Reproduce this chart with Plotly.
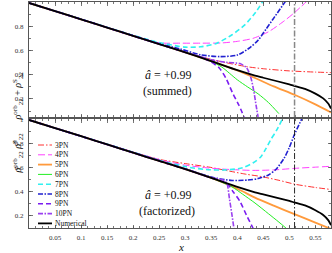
import plotly.graph_objects as go

# ---------------- data ----------------
x_num = [0.0, 0.05, 0.1, 0.15, 0.2, 0.25, 0.29, 0.35, 0.4, 0.434, 0.45, 0.5, 0.511, 0.53, 0.55, 0.565, 0.575, 0.58]
y_num = [1.0, 0.932, 0.864, 0.795, 0.726, 0.657, 0.603, 0.515, 0.44, 0.395, 0.377, 0.322, 0.308, 0.285, 0.245, 0.205, 0.16, 0.12]

# summed (top panel)
s3_x = [0, 0.1, 0.2, 0.3, 0.33, 0.36, 0.39, 0.42, 0.45, 0.5, 0.55, 0.58]
s3_y = [1, 0.864, 0.726, 0.589, 0.552, 0.52, 0.492, 0.468, 0.452, 0.434, 0.424, 0.42]
s4_x = [0, 0.1, 0.2, 0.25, 0.29, 0.33, 0.37, 0.4, 0.43, 0.46, 0.49, 0.51, 0.535]
s4_y = [1, 0.865, 0.73, 0.668, 0.665, 0.665, 0.667, 0.68, 0.705, 0.76, 0.85, 0.92, 1.02]
s5_x = [0, 0.1, 0.2, 0.3, 0.35, 0.4, 0.434, 0.47, 0.511, 0.55, 0.58]
s5_y = [1, 0.864, 0.726, 0.589, 0.516, 0.438, 0.375, 0.305, 0.233, 0.155, 0.088]
s6_x = [0, 0.1, 0.2, 0.3, 0.33, 0.35, 0.37, 0.4, 0.42, 0.44, 0.46, 0.48]
s6_y = [1, 0.864, 0.726, 0.589, 0.551, 0.512, 0.467, 0.36, 0.3, 0.243, 0.17, 0.078]
s7_x = [0, 0.1, 0.2, 0.25, 0.3, 0.33, 0.36, 0.39, 0.415, 0.435, 0.45]
s7_y = [1, 0.865, 0.73, 0.67, 0.632, 0.635, 0.663, 0.735, 0.82, 0.92, 1.02]
s8_x = [0, 0.1, 0.2, 0.25, 0.29, 0.33, 0.367, 0.4, 0.425, 0.44, 0.455, 0.472, 0.492]
s8_y = [1, 0.864, 0.727, 0.66, 0.617, 0.568, 0.553, 0.566, 0.63, 0.69, 0.78, 0.886, 1.01]
s9_x = [0, 0.1, 0.2, 0.3, 0.33, 0.35, 0.365, 0.378, 0.391, 0.403, 0.413]
s9_y = [1, 0.864, 0.726, 0.589, 0.55, 0.508, 0.46, 0.375, 0.25, 0.15, 0.05]
s10_x = [0, 0.1, 0.2, 0.3, 0.33, 0.355, 0.38, 0.405, 0.418, 0.426, 0.432, 0.436, 0.44]
s10_y = [1, 0.864, 0.726, 0.589, 0.552, 0.522, 0.505, 0.495, 0.46, 0.38, 0.26, 0.15, 0.05]

# factorized (bottom panel)
f3_x = [0, 0.1, 0.2, 0.25, 0.3, 0.348, 0.386, 0.418, 0.444, 0.48, 0.511, 0.55, 0.58]
f3_y = [1, 0.865, 0.73, 0.67, 0.635, 0.604, 0.571, 0.545, 0.528, 0.495, 0.462, 0.435, 0.418]
f4_x = [0, 0.1, 0.2, 0.26, 0.3, 0.34, 0.38, 0.43, 0.47, 0.51, 0.55, 0.58]
f4_y = [1, 0.866, 0.732, 0.658, 0.622, 0.6, 0.587, 0.578, 0.582, 0.595, 0.605, 0.612]
f5_x = [0, 0.1, 0.2, 0.3, 0.35, 0.38, 0.41, 0.434, 0.47, 0.511, 0.55, 0.58]
f5_y = [1, 0.864, 0.726, 0.589, 0.515, 0.463, 0.403, 0.35, 0.283, 0.21, 0.141, 0.088]
f6_x = [0, 0.1, 0.2, 0.3, 0.35, 0.37, 0.39, 0.41, 0.434, 0.46, 0.48, 0.495]
f6_y = [1, 0.864, 0.726, 0.589, 0.515, 0.48, 0.44, 0.38, 0.305, 0.215, 0.145, 0.09]
f7_x = [0, 0.1, 0.2, 0.25, 0.3, 0.34, 0.38, 0.41, 0.43, 0.445, 0.455, 0.465, 0.475, 0.487]
f7_y = [1, 0.865, 0.73, 0.663, 0.61, 0.585, 0.582, 0.6, 0.64, 0.69, 0.76, 0.84, 0.91, 1.01]
f8_x = [0, 0.1, 0.2, 0.3, 0.33, 0.36, 0.39, 0.42, 0.44, 0.46, 0.475, 0.49, 0.5, 0.51, 0.524]
f8_y = [1, 0.864, 0.727, 0.592, 0.548, 0.512, 0.494, 0.497, 0.51, 0.54, 0.59, 0.68, 0.77, 0.88, 1.01]
f9_x = [0, 0.1, 0.2, 0.3, 0.35, 0.37, 0.38, 0.392, 0.405, 0.418, 0.43, 0.435]
f9_y = [1, 0.864, 0.726, 0.589, 0.515, 0.488, 0.47, 0.4, 0.32, 0.2, 0.096, 0.05]
f10_x = [0, 0.1, 0.2, 0.3, 0.35, 0.372, 0.38, 0.385, 0.39, 0.395]
f10_y = [1, 0.864, 0.726, 0.589, 0.518, 0.5, 0.47, 0.34, 0.2, 0.05]

names = ["3PN", "4PN", "5PN", "6PN", "7PN", "8PN", "9PN", "10PN", "Numerical"]
x_lso = 0.51
x_ticks = [0.05, 0.1, 0.15, 0.2, 0.25, 0.3, 0.35, 0.4, 0.45, 0.5, 0.55]
y_ticks = [0.2, 0.4, 0.6, 0.8, 1.0]

# ---------------- styles ----------------
styles = {
    "3PN": dict(color="#ff3030", dash="6px,2px,1.5px,2px", width=1),
    "4PN": dict(color="#ff40ff", dash="7px,3px", width=1),
    "5PN": dict(color="#ff9a3c", dash="solid", width=1.8),
    "6PN": dict(color="#22ee22", dash="solid", width=1),
    "7PN": dict(color="#30f0f0", dash="5px,3px", width=1.6),
    "8PN": dict(color="#2020d0", dash="5px,1.5px,1.5px,1.5px", width=1.6),
    "9PN": dict(color="#7a1cf0", dash="5px,3px", width=1.6),
    "10PN": dict(color="#9a40f0", dash="5px,1.5px,1.5px,1.5px", width=1.6),
    "Numerical": dict(color="#000000", dash="solid", width=1.8),
}

top = {"3PN": (s3_x, s3_y), "4PN": (s4_x, s4_y), "5PN": (s5_x, s5_y), "6PN": (s6_x, s6_y),
       "7PN": (s7_x, s7_y), "8PN": (s8_x, s8_y), "9PN": (s9_x, s9_y), "10PN": (s10_x, s10_y),
       "Numerical": (x_num, y_num)}
bot = {"3PN": (f3_x, f3_y), "4PN": (f4_x, f4_y), "5PN": (f5_x, f5_y), "6PN": (f6_x, f6_y),
       "7PN": (f7_x, f7_y), "8PN": (f8_x, f8_y), "9PN": (f9_x, f9_y), "10PN": (f10_x, f10_y),
       "Numerical": (x_num, y_num)}

fig = go.Figure()
for panel, (xa, ya) in ((top, ("x", "y")), (bot, ("x2", "y2"))):
    for n in names:
        xs, ys = panel[n]
        st = styles[n]
        fig.add_trace(go.Scatter(
            x=xs, y=ys, mode="lines", name=n, xaxis=xa, yaxis=ya, showlegend=False,
            hoverinfo="skip",
            line=dict(color=st["color"], dash=st["dash"], width=st["width"],
                      shape="spline", smoothing=0.7)))

# geometry
W, H = 332, 253
L, R, T, B = 29, 1, 2, 25
PW, PH = W - L - R, H - T - B

def py2paper(py):
    return (H - B - py) / PH

def px2paper(px):
    return (px - L) / PW

FONT = "Liberation Serif"
axis_common = dict(showline=True, linecolor="#555555", linewidth=1, mirror="allticks",
                   ticks="inside", ticklen=3.5, tickcolor="#555555", tickwidth=0.8,
                   showgrid=False, zeroline=False, automargin=False,
                   tickfont=dict(family=FONT, size=7, color="#333333"))

xrange_ = [0.0, 0.58]
minor_x = dict(dtick=0.0125, tick0=0, ticks="inside", ticklen=2, tickcolor="#555555", showgrid=False)
minor_y = dict(dtick=0.1, tick0=0, ticks="inside", ticklen=2, tickcolor="#555555", showgrid=False)
fig.update_layout(
    template="none",
    width=W, height=H, margin=dict(l=L, r=R, t=T, b=B, autoexpand=False),
    font=dict(family=FONT),
    paper_bgcolor="white", plot_bgcolor="white", showlegend=False,
    xaxis=dict(domain=[0, 1], anchor="y", range=xrange_, tickvals=x_ticks, showticklabels=False,
               minor=minor_x, **axis_common),
    xaxis2=dict(domain=[0, 1], anchor="y2", range=xrange_, tickvals=x_ticks,
                ticktext=[f"{v:g}" for v in x_ticks], minor=minor_x, ticklabelstandoff=3,
                **axis_common),
    yaxis=dict(domain=[py2paper(117), 1], anchor="x", range=[0.05, 1.008], tickvals=y_ticks,
               ticktext=[f"{v:g}" for v in y_ticks], minor=minor_y, ticklabelstandoff=3,
               **axis_common),
    yaxis2=dict(domain=[0, py2paper(119)], anchor="x2", range=[0.096, 1.008], tickvals=y_ticks,
                ticktext=[f"{v:g}" for v in y_ticks], minor=minor_y, ticklabelstandoff=3,
                **axis_common),
)

# vertical reference lines
fig.add_shape(type="line", xref="x", yref="y domain", x0=x_lso, x1=x_lso, y0=0, y1=1,
              line=dict(color="#888888", width=1.5, dash="6px,2px,1.5px,2px"))
fig.add_shape(type="line", xref="x2", yref="y2 domain", x0=x_lso, x1=x_lso, y0=0, y1=1,
              line=dict(color="#111111", width=0.9, dash="6px,2px,1.5px,2px"))

# annotations
ann = []
ann.append(dict(text="<i>â</i> = +0.99", x=px2paper(168), y=py2paper(75)))
ann.append(dict(text="(summed)", x=px2paper(167), y=py2paper(91)))
ann.append(dict(text="<i>â</i> = +0.99", x=px2paper(168), y=py2paper(195)))
ann.append(dict(text="(factorized)", x=px2paper(167), y=py2paper(211)))
for a in ann:
    fig.add_annotation(xref="paper", yref="paper", showarrow=False, xanchor="center", yanchor="middle",
                       font=dict(family=FONT, size=12, color="#111111"), **a)

fig.add_annotation(text="<i>x</i>", xref="paper", yref="paper", x=px2paper(181), y=py2paper(255),
                   xanchor="center", yanchor="bottom", showarrow=False,
                   font=dict(family=FONT, size=11, color="#111111"))
fig.add_annotation(text="<i>ρ</i><sup>orb</sup><sub>22</sub> + <i>ρ</i><sup>S</sup><sub>22</sub>",
                   xref="paper", yref="paper", x=px2paper(8), y=py2paper(70), textangle=-90,
                   showarrow=False, font=dict(family=FONT, size=10, color="#111111"))
fig.add_annotation(text="<i>ρ</i><sup>orb</sup><sub>22</sub> <i>ρ̂</i><sup>S</sup><sub>22</sub>",
                   xref="paper", yref="paper", x=px2paper(8), y=py2paper(176), textangle=-90,
                   showarrow=False, font=dict(family=FONT, size=10, color="#111111"))

# legend (bottom panel), built from the same style table
for i, n in enumerate(names):
    st = styles[n]
    py = 145 + i * 9.8
    fig.add_shape(type="line", xref="paper", yref="paper", x0=px2paper(38), x1=px2paper(52),
                  y0=py2paper(py), y1=py2paper(py),
                  line=dict(color=st["color"], dash=st["dash"], width=st["width"]))
    fig.add_annotation(text=n, xref="paper", yref="paper", x=px2paper(53), y=py2paper(py),
                       xanchor="left", yanchor="middle", showarrow=False,
                       font=dict(family=FONT, size=7.5, color="#111111"))

fig.write_html("out.html", config={"displayModeBar": False, "staticPlot": True},
               post_script="document.body.style.margin='0px';document.body.style.overflow='hidden';")
